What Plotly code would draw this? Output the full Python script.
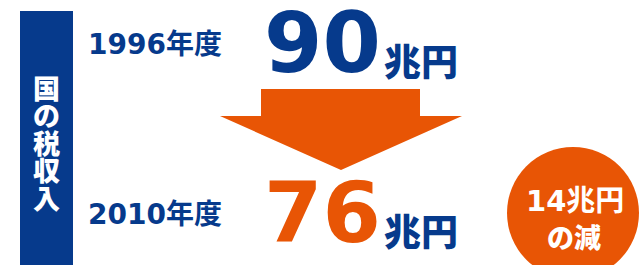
import plotly.graph_objects as go

# ---- data ----
title_label = "国の税収入"
years = ["1996年度", "2010年度"]
revenues = [90, 76]          # 兆円
unit = "兆円"
decrease_label = "の減"

BLUE = "#063a8c"
ORANGE = "#e85505"
W, H = 643, 265
NUM_FONT = "DejaVu Sans, Noto Sans CJK JP"
JP_FONT = "Noto Sans CJK JP, DejaVu Sans"

fig = go.Figure()
fig.update_layout(
    width=W, height=H, margin=dict(l=0, r=0, t=0, b=0),
    paper_bgcolor="white", plot_bgcolor="white", showlegend=False,
    xaxis=dict(range=[0, W], visible=False, fixedrange=True),
    yaxis=dict(range=[H, 0], visible=False, fixedrange=True),
)

shapes = []
# left blue band
shapes.append(dict(type="rect", x0=20, x1=73, y0=11, y1=H, fillcolor=BLUE, line_width=0, layer="below"))
# down arrow
shapes.append(dict(type="path",
                   path="M 261 89 L 420 89 L 420 116 L 462 116 L 341 170 L 220 116 L 261 116 Z",
                   fillcolor=ORANGE, line_width=0, layer="below"))
# circle
shapes.append(dict(type="circle", x0=507, x1=639, y0=147, y1=279, fillcolor=ORANGE, line_width=0, layer="below"))
fig.update_layout(shapes=shapes)

ann = []
# vertical label
for i, ch in enumerate(title_label):
    ann.append(dict(x=46.5, y=87 + i * 27.6, text=ch, showarrow=False, xanchor="center", yanchor="middle",
                    font=dict(family=JP_FONT, size=27, color="white", weight=900)))

year_y = [44, 214]
num_y = [43, 213]
unit_y = [60, 230]
num_colors = [BLUE, ORANGE]
for i in range(2):
    ann.append(dict(x=86, y=year_y[i], text=years[i], showarrow=False, xanchor="left", yanchor="middle",
                    font=dict(family=NUM_FONT, size=28, color=BLUE, weight="bold")))
    ann.append(dict(x=322, y=num_y[i], text=str(revenues[i]), showarrow=False, xanchor="center", yanchor="middle",
                    font=dict(family=NUM_FONT, size=84, color=num_colors[i], weight="bold")))
    ann.append(dict(x=382, y=unit_y[i], text=unit, showarrow=False, xanchor="left", yanchor="middle",
                    font=dict(family=JP_FONT, size=37, color=BLUE, weight=900)))

diff = revenues[0] - revenues[1]
ann.append(dict(x=575, y=201, text=f"{diff}{unit}", showarrow=False, xanchor="center", yanchor="middle",
                font=dict(family=NUM_FONT, size=29, color="white", weight="bold")))
ann.append(dict(x=574, y=236, text=decrease_label, showarrow=False, xanchor="center", yanchor="middle",
                font=dict(family=JP_FONT, size=27, color="white", weight=900)))
fig.update_layout(annotations=ann)

fig.write_html("out.html", config={"displayModeBar": False},
               post_script="document.body.style.margin='0';document.body.style.overflow='hidden';")
